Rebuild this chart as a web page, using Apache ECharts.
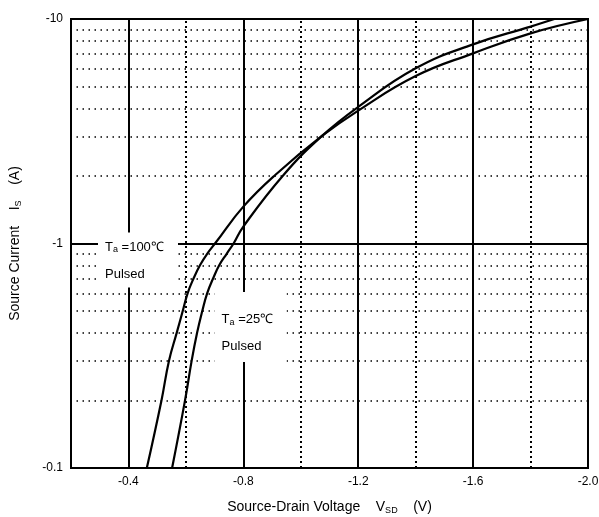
<!DOCTYPE html>
<html>
<head>
<meta charset="utf-8">
<script src="https://cdn.jsdelivr.net/npm/echarts@6/dist/echarts.min.js"></script>
<style>html,body{margin:0;padding:0;background:#fff}#c{width:599px;height:517px}</style>
</head>
<body>
<div id="c"></div>
<script>
// Source-drain voltage (V) and source current magnitude (A)
var v100 = [-0.464, -0.515, -0.541, -0.568, -0.589, -0.606, -0.627, -0.649, -0.674, -0.704, -0.80, -0.911, -1.075, -1.2, -1.4, -1.6, -1.8, -2.0];
var i100 = [0.1, 0.2, 0.3, 0.4, 0.5, 0.6, 0.7, 0.8, 0.9, 1.01, 1.46, 2.02, 3.02, 3.91, 5.57, 7.03, 8.63, 10];
var v25 = [-0.552, -0.597, -0.620, -0.639, -0.657, -0.674, -0.695, -0.716, -0.742, -0.766, -0.80, -0.937, -1.072, -1.2, -1.4, -1.6, -1.8, -1.883];
var i25 = [0.1, 0.2, 0.3, 0.4, 0.5, 0.6, 0.7, 0.8, 0.9, 1.0, 1.19, 2.0, 3.0, 4.06, 6.03, 7.71, 9.25, 10];
var xMinorLines = [-0.6, -1.0, -1.4, -1.8];
var yMinorLines = [0.2, 0.3, 0.4, 0.5, 0.6, 0.7, 0.8, 0.9, 2, 3, 4, 5, 6, 7, 8, 9];
var xTickLabels = ['-0.4', '-0.8', '-1.2', '-1.6', '-2.0'];

function pairs(xs, ys) { return xs.map(function (x, k) { return [x, ys[k]]; }); }

var FONT = 'Liberation Sans, Arial, sans-serif';
var chart = echarts.init(document.getElementById('c'), null, { renderer: 'canvas' });

var markLines = [];
xMinorLines.forEach(function (x) { markLines.push({ xAxis: x, lineStyle: { type: [2, 3], width: 2, color: '#000' } }); });
yMinorLines.forEach(function (y) { markLines.push({ yAxis: y, lineStyle: { type: [1.5, 4.5], width: 1.5, color: '#000' } }); });

var subStyle = { fontSize: 9, fontFamily: FONT, color: '#000', padding: [7, 0, 0, 0] };
var option = {
  animation: false,
  backgroundColor: '#fff',
  grid: { left: 71, right: 11, top: 19, bottom: 49, outerBoundsMode: 'none', containLabel: false, show: true, borderColor: '#000', borderWidth: 2, backgroundColor: 'transparent' },
  xAxis: {
    type: 'value', min: -2.0, max: -0.2, interval: 0.4, inverse: true,
    axisLine: { show: false }, axisTick: { show: false },
    splitLine: { show: true, lineStyle: { color: '#000', width: 2 } },
    axisLabel: {
      color: '#000', fontFamily: FONT, fontSize: 12, margin: 8,
      formatter: function (v) {
        var s = v.toFixed(1);
        return xTickLabels.indexOf(s) >= 0 ? s : '';
      }
    },
    name: 'Source-Drain Voltage    V{s|SD}    (V)', nameLocation: 'middle', nameGap: 31,
    nameTextStyle: { color: '#000', fontFamily: FONT, fontSize: 14, rich: { s: subStyle } }
  },
  yAxis: {
    type: 'log', logBase: 10, min: 0.1, max: 10,
    axisLine: { show: false }, axisTick: { show: false },
    splitLine: { show: true, lineStyle: { color: '#000', width: 2 } },
    axisLabel: {
      color: '#000', fontFamily: FONT, fontSize: 12, margin: 8,
      formatter: function (v) { return '-' + (+v.toPrecision(3)); }
    },
    name: 'Source Current    I{s|S}    (A)', nameLocation: 'middle', nameGap: 48,
    nameTextStyle: { color: '#000', fontFamily: FONT, fontSize: 14, rich: { s: subStyle } }
  },
  series: [
    {
      type: 'line', data: [], silent: true,
      markLine: { silent: true, symbol: 'none', label: { show: false }, animation: false, data: markLines }
    },
    { name: 'Ta=100', type: 'line', smooth: 0.45, symbol: 'none', data: pairs(v100, i100), lineStyle: { color: '#000', width: 2.2 }, z: 5 },
    { name: 'Ta=25', type: 'line', smooth: 0.45, symbol: 'none', data: pairs(v25, i25), lineStyle: { color: '#000', width: 2.2 }, z: 5 }
  ]
};
chart.setOption(option);

function label(anchor, lines, w, h, dy) {
  var p = chart.convertToPixel({ gridIndex: 0 }, anchor);
  return {
    type: 'group', x: p[0], y: p[1], z: 10,
    children: [
      { type: 'rect', shape: { x: 0, y: 0, width: w, height: h }, style: { fill: '#fff' }, z: 10 },
      { type: 'text', x: 7, y: dy, z: 11, style: {
        text: lines, fill: '#000', font: '13px ' + FONT, lineHeight: 27,
        rich: { s: { fontSize: 9, fontFamily: FONT, fill: '#000', padding: [6, 0, 0, 0] }, t: { fontSize: 13, fontFamily: FONT, fill: '#000', lineHeight: 27 } }
      } }
    ]
  };
}
chart.setOption({
  graphic: [
    label([-0.294, 1.12], '{t|T}{s|a}{t| =100℃}\n{t|Pulsed}', 80, 55, 1),
    label([-0.7, 0.608], '{t|T}{s|a}{t| =25℃}\n{t|Pulsed}', 72, 70, 14)
  ]
});
</script>
</body>
</html>
